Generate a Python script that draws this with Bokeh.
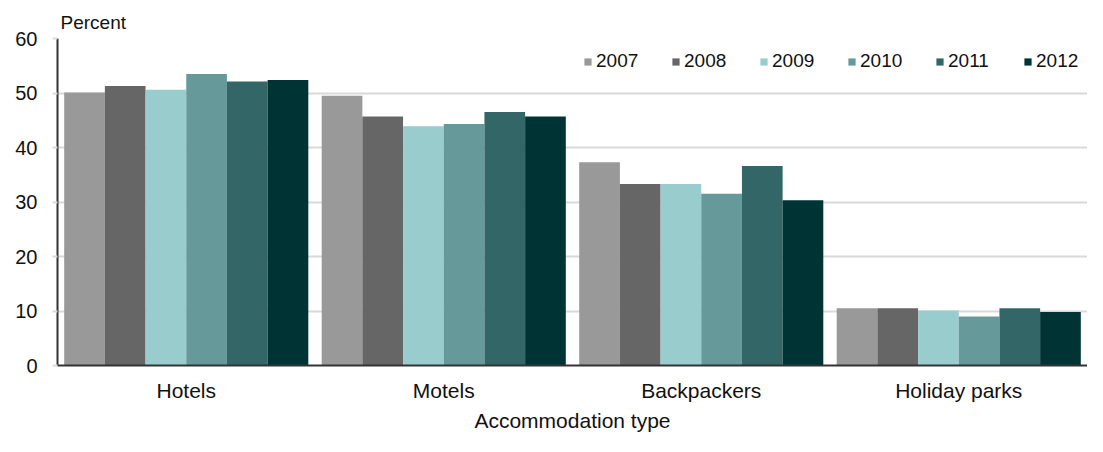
from bokeh.plotting import figure
from bokeh.models import FactorRange, Range1d, ColumnDataSource, Legend, LegendItem, Title, FixedTicker
from bokeh.transform import dodge
from bokeh.embed import file_html
from bokeh.resources import INLINE

categories = ["Hotels", "Motels", "Backpackers", "Holiday parks"]
years = ["2007", "2008", "2009", "2010", "2011", "2012"]
v2007 = [50.1, 49.5, 37.3, 10.5]
v2008 = [51.3, 45.7, 33.3, 10.5]
v2009 = [50.6, 43.9, 33.3, 10.1]
v2010 = [53.5, 44.3, 31.5, 9.0]
v2011 = [52.1, 46.5, 36.6, 10.5]
v2012 = [52.4, 45.7, 30.3, 9.8]
colors = ["#999999", "#666666", "#99CCCC", "#669999", "#336666", "#003333"]
yticks = [0, 10, 20, 30, 40, 50, 60]

FONT = "Liberation Sans"
TXT = "#111111"

src = ColumnDataSource(dict(cat=categories, y2007=v2007, y2008=v2008, y2009=v2009,
                            y2010=v2010, y2011=v2011, y2012=v2012))

p = figure(width=1087, height=436, x_range=FactorRange(*categories, range_padding=0),
           y_range=Range1d(0, 60), output_backend="svg", toolbar_location=None,
           min_border_left=57, min_border_right=0, min_border_top=38, min_border_bottom=71)

bw = 0.158
items = []
for i, yr in enumerate(years):
    off = (i - 2.5) * bw
    r = p.vbar(x=dodge("cat", off, range=p.x_range), top="y" + yr, width=bw, source=src,
               fill_color=colors[i], line_color=None)
    items.append(LegendItem(label=yr, renderers=[r]))

legend = Legend(items=items, orientation="horizontal", location="top_right",
                label_text_font=FONT, label_text_font_size="19px", label_text_color=TXT,
                glyph_width=9, glyph_height=9, label_standoff=4, spacing=32, label_width=43,
                label_height=30, border_line_color=None, background_fill_alpha=0,
                margin=8, padding=4)
p.add_layout(legend, "center")

p.outline_line_color = None
p.xgrid.grid_line_color = None
p.ygrid.grid_line_color = "#d9d9d9"
p.ygrid.grid_line_width = 2

p.yaxis.ticker = FixedTicker(ticks=yticks)
p.yaxis.axis_line_color = "#333333"
p.yaxis.axis_line_width = 2
p.yaxis.major_tick_line_color = "#d9d9d9"
p.yaxis.major_tick_line_width = 2
p.yaxis.major_tick_out = 5
p.yaxis.major_tick_in = 0
p.yaxis.minor_tick_line_color = None
p.yaxis.major_label_text_font = FONT
p.yaxis.major_label_text_font_size = "20px"
p.yaxis.major_label_text_color = TXT
p.yaxis.major_label_standoff = 15

p.xaxis.axis_line_color = "#333333"
p.xaxis.axis_line_width = 2
p.xaxis.major_tick_line_color = None
p.xaxis.minor_tick_line_color = None
p.xaxis.major_label_text_font = FONT
p.xaxis.major_label_text_font_size = "21px"
p.xaxis.major_label_text_color = TXT
p.xaxis.major_label_standoff = 7
p.xaxis.axis_label = "Accommodation type"
p.xaxis.axis_label_text_font = FONT
p.xaxis.axis_label_text_font_size = "21px"
p.xaxis.axis_label_text_font_style = "normal"
p.xaxis.axis_label_text_color = TXT
p.xaxis.axis_label_standoff = 4

p.add_layout(Title(text="Percent", align="left", offset=3, text_font=FONT,
                   text_font_size="19px", text_font_style="normal", text_color=TXT,
                   standoff=12), "above")

open("out.html", "w").write(file_html(p, INLINE))
